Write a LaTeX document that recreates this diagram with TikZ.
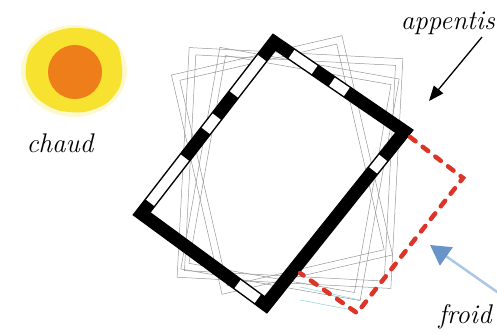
\documentclass[tikz,border=0pt]{standalone}
\usepackage{tikz}
\usetikzlibrary{calc, arrows.meta}

\definecolor{sunyellow}{RGB}{248,226,48}
\definecolor{sunhalo}{RGB}{253,248,205}
\definecolor{sunorange}{RGB}{238,126,26}
\definecolor{leanred}{RGB}{222,52,40}
\definecolor{coldblue}{RGB}{104,148,202}
\definecolor{coldshaft}{RGB}{170,200,228}
\definecolor{ghostgrey}{RGB}{150,150,150}
\definecolor{ghostcyan}{RGB}{150,215,225}

\begin{document}
\begin{tikzpicture}[x=1pt, y=1pt,
    wall/.style={line width=13pt, black, line join=miter},
    window/.style={line width=10pt, white},
    ghost/.style={ghostgrey, line width=0.5pt},
    leanto/.style={leanred, line width=4.5pt, line cap=round, dash pattern=on 7pt off 9pt},
    label/.style={font=\fontsize{27}{30}\selectfont\itshape, inner sep=0pt}]
\useasboundingbox (0,0) rectangle (497,334);
\clip (0,0) rectangle (497,334);

% sun
\fill[sunhalo] (74,263) ellipse [x radius=53, y radius=46];
\fill[sunyellow] plot[smooth cycle] coordinates {(122,266) (117,289) (97,303) (70,306) (45,298) (29,281) (26,257) (36,237) (57,224) (84,222) (107,231) (120,248)};
\fill[sunorange] (75,262) circle (27);
\node[label] (chaud) at (60,191) {chaud};

% other orientations of the house
\foreach \ang/\cx/\cy/\w/\h in {13/282/169/175/225, -10/290/160/182/225, -3/290/166/214/230}
  \foreach \d in {0,7} {
    \begin{scope}[shift={(\cx,\cy)}, rotate=\ang]
      \draw[ghost] ({-\w/2+\d},{-\h/2+\d}) -- ({\w/2-\d},{-\h/2+\d}) -- ({\w/2-\d},{\h/2-\d}) -- ({-\w/2+\d},{\h/2-\d}) -- cycle;
    \end{scope}
  }
\draw[ghostcyan, line width=0.6pt] (300,47) -- (360,34);
\draw[ghostcyan, line width=0.6pt] (300,34) -- (352,24);

% house walls
\coordinate (Tc) at (274.2,291.8);
\coordinate (Rc) at (404.4,202.7);
\coordinate (Bc) at (265.8,29.2);
\coordinate (Lc) at (141.6,120.3);
\draw[wall] (Tc) -- (Rc) -- (Bc) -- (Lc) -- cycle;
\foreach \a/\b/\s/\e in {Tc/Rc/21/49, Tc/Rc/70/88, Tc/Lc/20/66, Tc/Lc/94/112, Tc/Lc/146/203, Rc/Bc/34/50, Lc/Bc/119/144}
  \draw[window] ($(\a)!\s pt!(\b)$) -- ($(\a)!\e pt!(\b)$);

% lean-to
\coordinate (P1) at (410,197);
\coordinate (P2) at (463,156);
\coordinate (P3) at (357,21);
\coordinate (P4) at (300,61);
\draw[leanto] (P1) -- (P2) -- (P3) -- (P4);

% labels and arrows
\node[label, anchor=base east] (appentis) at (495,304) {appentis};
\coordinate (appTail) at (482,297);
\coordinate (appTip) at (429,233);
\draw[line width=1.3pt, -{Triangle[length=15pt, width=12pt]}] (appTail) -- (appTip);

\node[label, anchor=base] (froid) at (465,10) {froid};
\coordinate (coldTail) at (500,40);
\coordinate (coldTip) at (430,89);
\draw[coldshaft, line width=2.5pt, -{Triangle[length=20pt, width=22pt, color=coldblue]}] (coldTail) -- (coldTip);
\end{tikzpicture}
\end{document}
